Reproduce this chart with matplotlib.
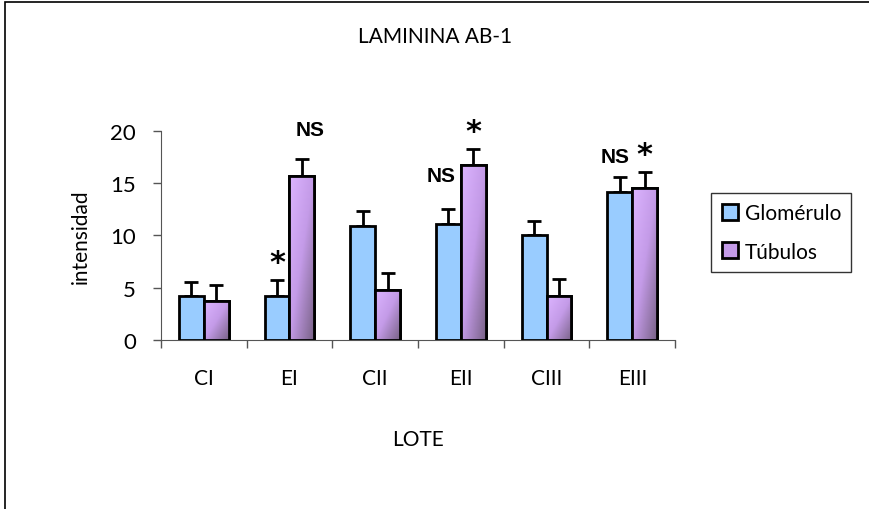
import numpy as np
import matplotlib.pyplot as plt
from matplotlib.patches import Rectangle
from matplotlib.colors import LinearSegmentedColormap

lotes = ['CI', 'EI', 'CII', 'EII', 'CIII', 'EIII']
glomerulo = [4.2, 4.2, 10.9, 11.1, 10.0, 14.2]
glomerulo_err = [1.3, 1.5, 1.4, 1.4, 1.4, 1.4]
tubulos = [3.7, 15.7, 4.8, 16.7, 4.2, 14.5]
tubulos_err = [1.6, 1.6, 1.6, 1.6, 1.6, 1.6]
marcas_glom = ['', '*', '', 'NS', '', 'NS']
marcas_tub = ['', 'NS', '', '*', '', '*']

FONT = 'Lato'

fig = plt.figure(figsize=(8.7, 5.1), dpi=100)
fig.patches.append(Rectangle((0.006, -0.1), 1.2, 1.094, transform=fig.transFigure,
                             fill=False, edgecolor='black', linewidth=1.2))
ax = fig.add_axes([0.185, 0.3314, 0.591, 0.41])

x = np.arange(len(lotes))
w = 0.29
grad = LinearSegmentedColormap.from_list('tub', ['#dcb4ff', '#c49be8', '#7a6388'])
gimg = np.add.outer(np.linspace(0, 1, 50), np.linspace(0, 1, 50)) / 2

ax.bar(x - w/2, glomerulo, w, color='#99ccff', edgecolor='black', linewidth=2,
       zorder=3, label='Glomérulo')
bars_t = ax.bar(x + w/2, tubulos, w, color='#c49be8', edgecolor='black', linewidth=2,
                zorder=3, label='Túbulos')
for b in bars_t:
    x0, y0 = b.get_x(), b.get_y()
    im = ax.imshow(gimg, cmap=grad, extent=[x0, x0 + b.get_width(), y0, y0 + b.get_height()],
                   aspect='auto', zorder=3.5, origin='upper')
    im.set_clip_path(b)
    ax.add_patch(Rectangle((x0, y0), b.get_width(), b.get_height(), fill=False,
                           edgecolor='black', linewidth=2, zorder=4))

ax.errorbar(x - w/2, glomerulo, yerr=[np.zeros(6), glomerulo_err], fmt='none',
            ecolor='black', elinewidth=2, capsize=5, capthick=2, zorder=2)
ax.errorbar(x + w/2, tubulos, yerr=[np.zeros(6), tubulos_err], fmt='none',
            ecolor='black', elinewidth=2, capsize=5, capthick=2, zorder=2)

for i in range(len(lotes)):
    for xs, v, e, m in [(x[i] - w/2, glomerulo[i], glomerulo_err[i], marcas_glom[i]),
                        (x[i] + w/2, tubulos[i], tubulos_err[i], marcas_tub[i])]:
        if m == '*':
            ax.text(xs, v + e + 0.3, '*', ha='center', va='bottom', fontsize=22,
                    fontweight='bold', family='DejaVu Sans')
        elif m == 'NS':
            ax.text(xs, v + e + 1.3, 'NS', ha='center', va='bottom', fontsize=15,
                    fontweight='bold', family='Liberation Sans')

# fix a couple of label positions to match the original layout
for t in ax.texts:
    if t.get_text() == 'NS' and abs(t.get_position()[0] - (3 - w/2)) < 1e-6:
        t.set_position((3 - w/2 - 0.09, 14.8))
    if t.get_text() == 'NS' and abs(t.get_position()[0] - (1 + w/2)) < 1e-6:
        t.set_position((1 + w/2 + 0.1, 19.2))
    if t.get_text() == 'NS' and abs(t.get_position()[0] - (5 - w/2)) < 1e-6:
        t.set_position((5 - w/2 - 0.05, 16.6))

ax.set_xlim(-0.5, 5.5)
ax.set_ylim(0, 20)
ax.set_yticks([0, 5, 10, 15, 20])
ax.set_xticks(x)
ax.set_xticklabels(lotes, family=FONT, fontsize=15)
ax.set_xticks(np.arange(-0.5, 6, 1), minor=True)
ax.tick_params(axis='x', which='major', length=0, pad=20)
ax.tick_params(axis='x', which='minor', length=6, width=1, color='#555555')
ax.tick_params(axis='y', length=6, width=1, labelsize=16, color='#555555', pad=12)
for lab in ax.get_yticklabels():
    lab.set_family(FONT)
for s in ['top', 'right']:
    ax.spines[s].set_visible(False)
ax.spines['left'].set_color('#555555')
ax.spines['bottom'].set_color('#555555')
ax.set_ylabel('intensidad', family=FONT, fontsize=15, labelpad=14)
ax.set_xlabel('LOTE', family=FONT, fontsize=15, labelpad=30)
fig.text(0.5, 0.927, 'LAMININA AB-1', ha='center', va='center', family=FONT, fontsize=15)

leg = ax.legend(loc='upper left', bbox_to_anchor=(1.05, 0.755), frameon=True, fancybox=False,
                edgecolor='black', prop={'family': FONT, 'size': 15}, handlelength=0.8,
                handleheight=0.8, handletextpad=0.3, borderpad=0.5, labelspacing=0.9)
leg.get_frame().set_linewidth(1)

fig.savefig('out.png', dpi=100)
